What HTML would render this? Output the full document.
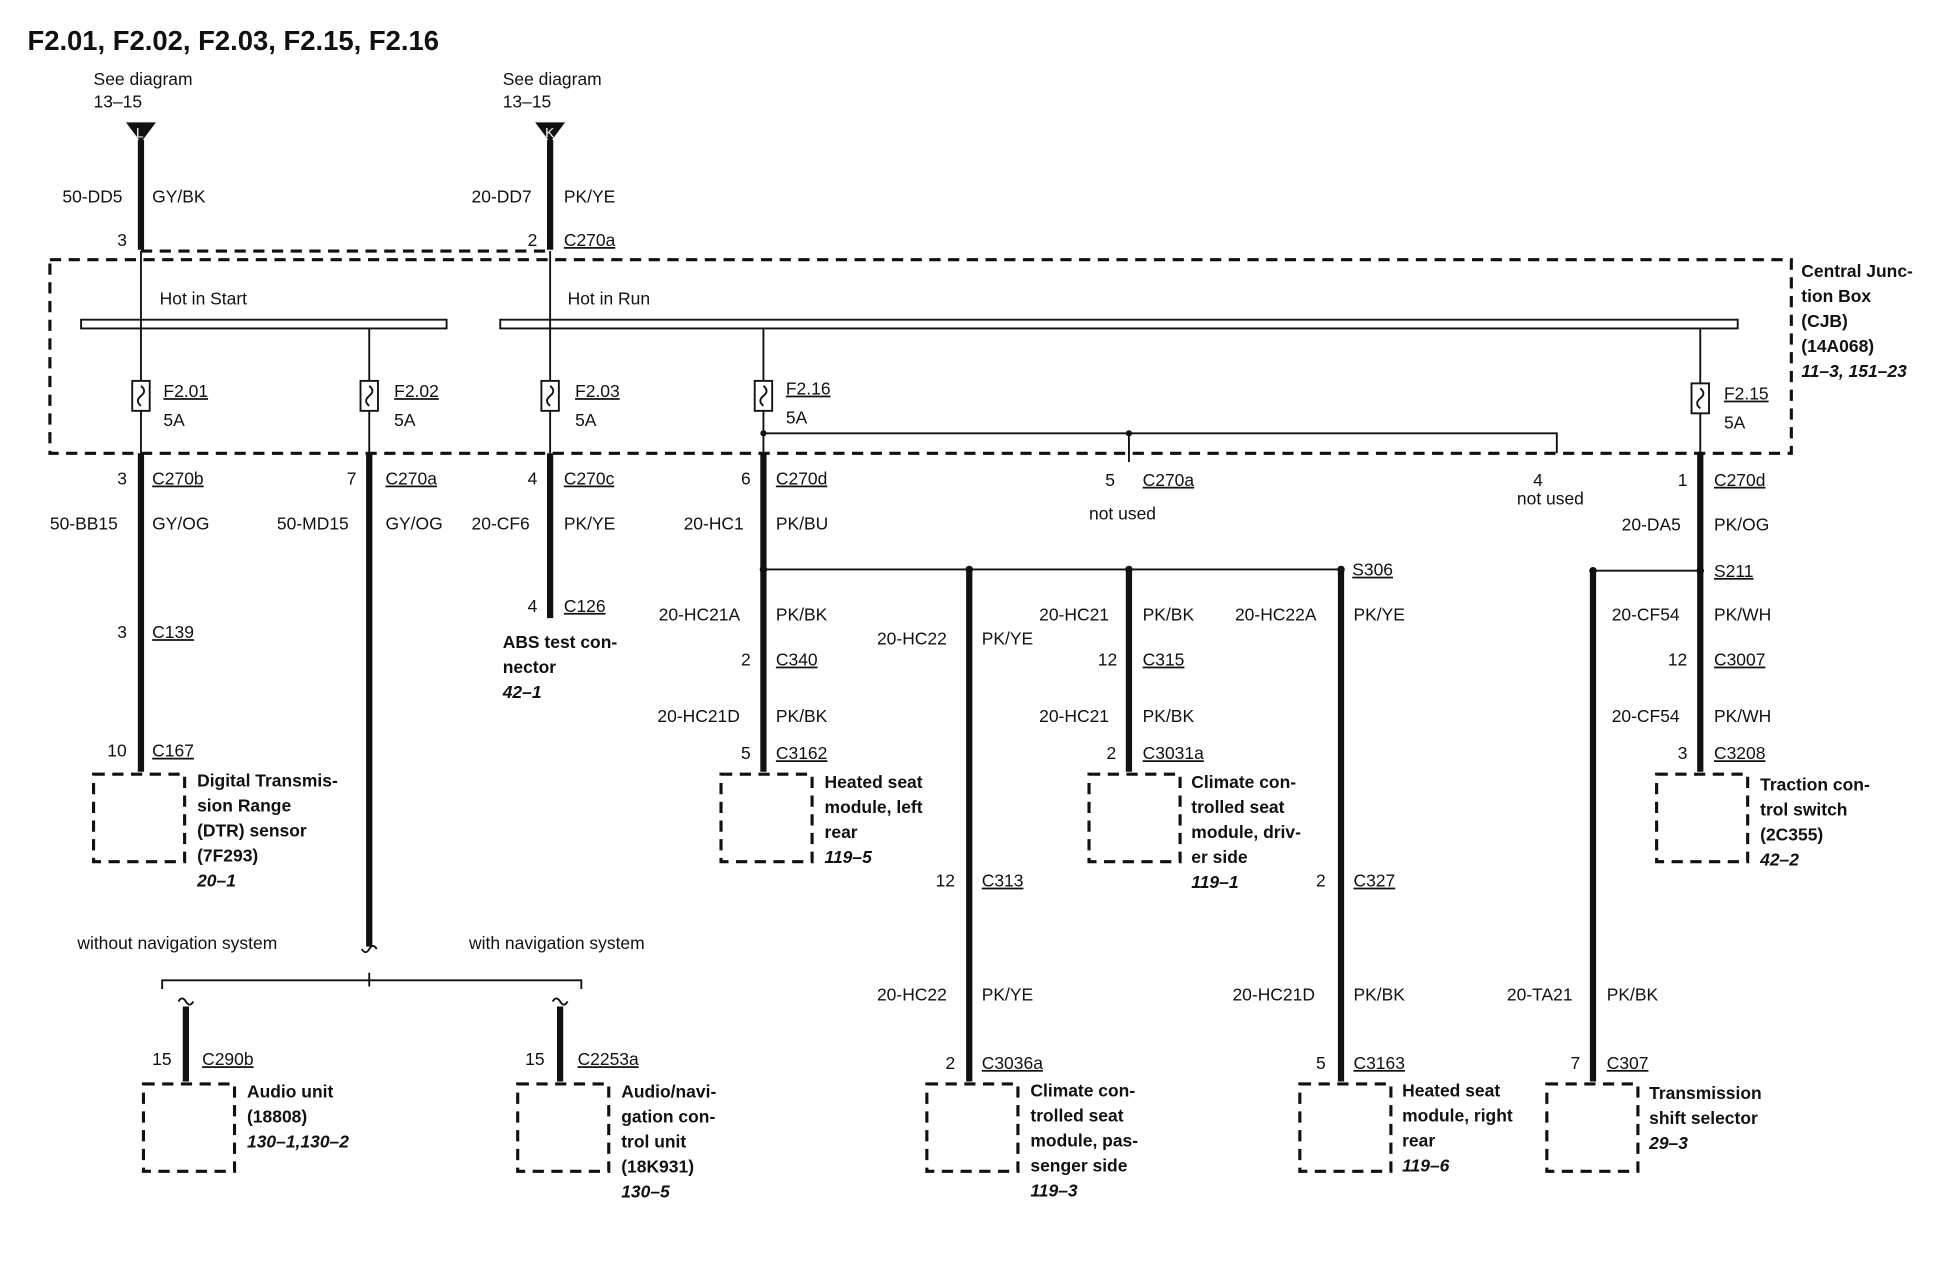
<!DOCTYPE html>
<html><head><meta charset="utf-8"><style>
html,body{margin:0;padding:0;background:#fff}
svg{display:block}
text{font-family:"Liberation Sans",Arial,sans-serif;font-size:14px;fill:#111}
.b{font-weight:bold}
.i{font-weight:bold;font-style:italic}
.u{text-decoration:underline}
.t{stroke:#111;stroke-width:5;fill:none}
.n{stroke:#111;stroke-width:1.5;fill:none}
.d{stroke:#111;stroke-width:2.5;fill:none;stroke-dasharray:9,6}
</style></head><body>
<svg width="1956" height="1280" viewBox="0 0 1568 1025" preserveAspectRatio="none" xmlns="http://www.w3.org/2000/svg">
<text x="22" y="40" class="b" style="font-size:22px">F2.01, F2.02, F2.03, F2.15, F2.16</text>
<text x="75" y="68">See diagram</text><text x="75" y="86">13–15</text>
<text x="403" y="68">See diagram</text><text x="403" y="86">13–15</text>
<polygon points="101,98 125,98 113,114" fill="#111"/><text x="109" y="110" style="font-size:11px;fill:#fff">L</text>
<polygon points="429,98 453,98 441,114" fill="#111"/><text x="437" y="110" style="font-size:11px;fill:#fff">K</text>
<line class="t" x1="113" y1="112" x2="113" y2="200"/>
<line class="t" x1="441" y1="112" x2="441" y2="200"/>
<text x="50" y="162">50-DD5</text><text x="122" y="162">GY/BK</text>
<text x="378" y="162">20-DD7</text><text x="452" y="162">PK/YE</text>
<text x="94" y="197">3</text><text x="423" y="197">2</text><text x="452" y="197" class="u">C270a</text>
<line class="d" x1="113" y1="201" x2="441" y2="201"/>
<rect class="d" x="40" y="208" width="1396" height="155"/>
<text x="1444" y="222" class="b">Central Junc-</text><text x="1444" y="242" class="b">tion Box</text><text x="1444" y="262" class="b">(CJB)</text><text x="1444" y="282" class="b">(14A068)</text><text x="1444" y="302" class="i">11–3, 151–23</text>
<rect x="65" y="256" width="293" height="7" fill="#fff" stroke="#111" stroke-width="1.5"/>
<rect x="401" y="256" width="992" height="7" fill="#fff" stroke="#111" stroke-width="1.5"/>
<text x="128" y="244">Hot in Start</text><text x="455" y="244">Hot in Run</text>
<line class="n" x1="113" y1="201" x2="113" y2="363"/>
<line class="n" x1="296" y1="263" x2="296" y2="363"/>
<line class="n" x1="441" y1="201" x2="441" y2="363"/>
<line class="n" x1="612" y1="263" x2="612" y2="363"/>
<line class="n" x1="1363" y1="263" x2="1363" y2="363"/>
<g fill="#fff" stroke="#111" stroke-width="1.5">
<rect x="106" y="305" width="14" height="24"/><rect x="289" y="305" width="14" height="24"/><rect x="434" y="305" width="14" height="24"/><rect x="605" y="305" width="14" height="24"/><rect x="1356" y="307" width="14" height="24"/></g>
<g class="n"><path d="M113 309 q5 4 0 8 q-5 4 0 8"/><path d="M296 309 q5 4 0 8 q-5 4 0 8"/><path d="M441 309 q5 4 0 8 q-5 4 0 8"/><path d="M612 309 q5 4 0 8 q-5 4 0 8"/><path d="M1363 311 q5 4 0 8 q-5 4 0 8"/></g>
<text x="131" y="318" class="u">F2.01</text><text x="131" y="341">5A</text>
<text x="316" y="318" class="u">F2.02</text><text x="316" y="341">5A</text>
<text x="461" y="318" class="u">F2.03</text><text x="461" y="341">5A</text>
<text x="630" y="316" class="u">F2.16</text><text x="630" y="339">5A</text>
<text x="1382" y="320" class="u">F2.15</text><text x="1382" y="343">5A</text>
<polyline class="n" points="612,347 1248,347 1248,363"/>
<line class="n" x1="905" y1="347" x2="905" y2="370"/>
<circle cx="612" cy="347" r="2.5" fill="#111"/><circle cx="905" cy="347" r="2.5" fill="#111"/>
<text x="886" y="389">5</text><text x="916" y="389" class="u">C270a</text><text x="873" y="416">not used</text>
<text x="1229" y="389">4</text><text x="1216" y="404">not used</text>
<line class="t" x1="113" y1="363" x2="113" y2="618"/>
<text x="94" y="388">3</text><text x="122" y="388" class="u">C270b</text>
<text x="40" y="424">50-BB15</text><text x="122" y="424">GY/OG</text>
<text x="94" y="511">3</text><text x="122" y="511" class="u">C139</text>
<text x="86" y="606">10</text><text x="122" y="606" class="u">C167</text>
<rect class="d" x="75" y="620" width="73" height="70"/>
<text x="158" y="630" class="b">Digital Transmis-</text><text x="158" y="650" class="b">sion Range</text><text x="158" y="670" class="b">(DTR) sensor</text><text x="158" y="690" class="b">(7F293)</text><text x="158" y="710" class="i">20–1</text>
<line class="t" x1="296" y1="363" x2="296" y2="758"/>
<text x="278" y="388">7</text><text x="309" y="388" class="u">C270a</text>
<text x="222" y="424">50-MD15</text><text x="309" y="424">GY/OG</text>
<path class="n" d="M290 760 q3 5 6 0 q3 -5 6 0"/>
<path class="n" d="M130 792 L130 785 L466 785 L466 792"/><line class="n" x1="296" y1="779" x2="296" y2="790"/>
<text x="62" y="760">without navigation system</text><text x="376" y="760">with navigation system</text>
<path class="n" d="M143 802 q3 -5 6 0 q3 5 6 0"/><path class="n" d="M443 802 q3 -5 6 0 q3 5 6 0"/>
<line class="t" x1="149" y1="806" x2="149" y2="866"/><line class="t" x1="449" y1="806" x2="449" y2="866"/>
<text x="122" y="853">15</text><text x="162" y="853" class="u">C290b</text>
<text x="421" y="853">15</text><text x="463" y="853" class="u">C2253a</text>
<rect class="d" x="115" y="868" width="73" height="70"/><rect class="d" x="415" y="868" width="73" height="70"/>
<text x="198" y="879" class="b">Audio unit</text><text x="198" y="899" class="b">(18808)</text><text x="198" y="919" class="i">130–1,130–2</text>
<text x="498" y="879" class="b">Audio/navi-</text><text x="498" y="899" class="b">gation con-</text><text x="498" y="919" class="b">trol unit</text><text x="498" y="939" class="b">(18K931)</text><text x="498" y="959" class="i">130–5</text>
<line class="t" x1="441" y1="363" x2="441" y2="495"/>
<text x="423" y="388">4</text><text x="452" y="388" class="u">C270c</text>
<text x="378" y="424">20-CF6</text><text x="452" y="424">PK/YE</text>
<text x="423" y="490">4</text><text x="452" y="490" class="u">C126</text>
<text x="403" y="519" class="b">ABS test con-</text><text x="403" y="539" class="b">nector</text><text x="403" y="559" class="i">42–1</text>
<line class="t" x1="612" y1="363" x2="612" y2="618"/>
<text x="594" y="388">6</text><text x="622" y="388" class="u">C270d</text>
<text x="548" y="424">20-HC1</text><text x="622" y="424">PK/BU</text>
<line class="n" x1="612" y1="456" x2="1075" y2="456"/>
<circle cx="612" cy="456" r="3" fill="#111"/><circle cx="777" cy="456" r="3" fill="#111"/><circle cx="905" cy="456" r="3" fill="#111"/><circle cx="1075" cy="456" r="3" fill="#111"/>
<text x="1084" y="461" class="u">S306</text>
<text x="528" y="497">20-HC21A</text><text x="622" y="497">PK/BK</text>
<text x="594" y="533">2</text><text x="622" y="533" class="u">C340</text>
<text x="527" y="578">20-HC21D</text><text x="622" y="578">PK/BK</text>
<text x="594" y="608">5</text><text x="622" y="608" class="u">C3162</text>
<rect class="d" x="578" y="620" width="73" height="70"/>
<text x="661" y="631" class="b">Heated seat</text><text x="661" y="651" class="b">module, left</text><text x="661" y="671" class="b">rear</text><text x="661" y="691" class="i">119–5</text>
<line class="t" x1="777" y1="456" x2="777" y2="866"/>
<text x="703" y="516">20-HC22</text><text x="787" y="516">PK/YE</text>
<text x="750" y="710">12</text><text x="787" y="710" class="u">C313</text>
<text x="703" y="801">20-HC22</text><text x="787" y="801">PK/YE</text>
<text x="758" y="856">2</text><text x="787" y="856" class="u">C3036a</text>
<rect class="d" x="743" y="868" width="73" height="70"/>
<text x="826" y="878" class="b">Climate con-</text><text x="826" y="898" class="b">trolled seat</text><text x="826" y="918" class="b">module, pas-</text><text x="826" y="938" class="b">senger side</text><text x="826" y="958" class="i">119–3</text>
<line class="t" x1="905" y1="456" x2="905" y2="618"/>
<text x="833" y="497">20-HC21</text><text x="916" y="497">PK/BK</text>
<text x="880" y="533">12</text><text x="916" y="533" class="u">C315</text>
<text x="833" y="578">20-HC21</text><text x="916" y="578">PK/BK</text>
<text x="887" y="608">2</text><text x="916" y="608" class="u">C3031a</text>
<rect class="d" x="873" y="620" width="73" height="70"/>
<text x="955" y="631" class="b">Climate con-</text><text x="955" y="651" class="b">trolled seat</text><text x="955" y="671" class="b">module, driv-</text><text x="955" y="691" class="b">er side</text><text x="955" y="711" class="i">119–1</text>
<line class="t" x1="1075" y1="456" x2="1075" y2="866"/>
<text x="990" y="497">20-HC22A</text><text x="1085" y="497">PK/YE</text>
<text x="1055" y="710">2</text><text x="1085" y="710" class="u">C327</text>
<text x="988" y="801">20-HC21D</text><text x="1085" y="801">PK/BK</text>
<text x="1055" y="856">5</text><text x="1085" y="856" class="u">C3163</text>
<rect class="d" x="1042" y="868" width="73" height="70"/>
<text x="1124" y="878" class="b">Heated seat</text><text x="1124" y="898" class="b">module, right</text><text x="1124" y="918" class="b">rear</text><text x="1124" y="938" class="i">119–6</text>
<line class="t" x1="1363" y1="363" x2="1363" y2="618"/>
<text x="1345" y="389">1</text><text x="1374" y="389" class="u">C270d</text>
<text x="1300" y="425">20-DA5</text><text x="1374" y="425">PK/OG</text>
<line class="n" x1="1277" y1="457" x2="1363" y2="457"/>
<circle cx="1277" cy="457" r="3" fill="#111"/><circle cx="1363" cy="457" r="3" fill="#111"/>
<text x="1374" y="462" class="u">S211</text>
<text x="1292" y="497">20-CF54</text><text x="1374" y="497">PK/WH</text>
<text x="1337" y="533">12</text><text x="1374" y="533" class="u">C3007</text>
<text x="1292" y="578">20-CF54</text><text x="1374" y="578">PK/WH</text>
<text x="1345" y="608">3</text><text x="1374" y="608" class="u">C3208</text>
<rect class="d" x="1328" y="620" width="73" height="70"/>
<text x="1411" y="633" class="b">Traction con-</text><text x="1411" y="653" class="b">trol switch</text><text x="1411" y="673" class="b">(2C355)</text><text x="1411" y="693" class="i">42–2</text>
<line class="t" x1="1277" y1="457" x2="1277" y2="866"/>
<text x="1208" y="801">20-TA21</text><text x="1288" y="801">PK/BK</text>
<text x="1259" y="856">7</text><text x="1288" y="856" class="u">C307</text>
<rect class="d" x="1240" y="868" width="73" height="70"/>
<text x="1322" y="880" class="b">Transmission</text><text x="1322" y="900" class="b">shift selector</text><text x="1322" y="920" class="i">29–3</text>
</svg>
</body></html>
